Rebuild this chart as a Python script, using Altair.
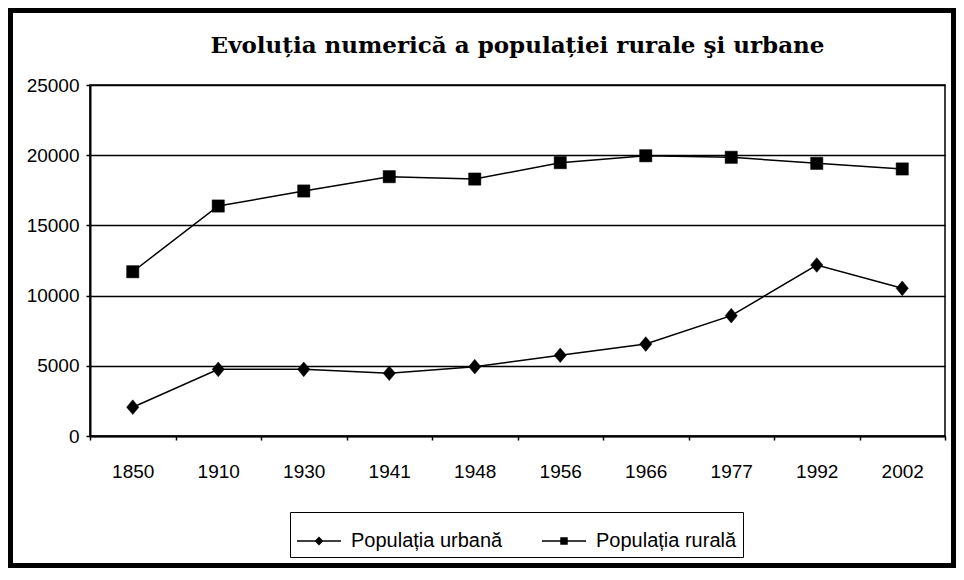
import altair as alt
import pandas as pd

years = ["1850", "1910", "1930", "1941", "1948", "1956", "1966", "1977", "1992", "2002"]
urban = [2050, 4750, 4750, 4470, 4940, 5750, 6550, 8570, 12180, 10520]
rural = [11700, 16380, 17450, 18470, 18300, 19470, 19960, 19850, 19420, 19020]
series_names = ["Populația urbană", "Populația rurală"]
y_ticks = [0, 5000, 10000, 15000, 20000, 25000]
title_text = "Evoluția numerică a populației rurale şi urbane"

rows = []
for i, yr in enumerate(years):
    rows.append({"year": yr, "value": urban[i], "series": series_names[0]})
    rows.append({"year": yr, "value": rural[i], "series": series_names[1]})
df = pd.DataFrame(rows)

W, H = 855, 351
PL, PT, PR, PB = 82, 77, 11, 132

x_enc = alt.X(
    "year:N", sort=years, bandPosition=0.5,
    scale=alt.Scale(type="band", paddingInner=0, paddingOuter=0),
    axis=alt.Axis(title=None, tickBand="extent", grid=False, labelAngle=0,
                  tickSize=4, tickColor="black", tickWidth=1.5,
                  domainColor="black", domainWidth=2,
                  labelFont="Liberation Sans", labelFontSize=19, labelColor="black",
                  labelPadding=22),
)
y_enc = alt.Y(
    "value:Q",
    scale=alt.Scale(domain=[0, 25000], nice=False),
    axis=alt.Axis(title=None, values=y_ticks, format="d", grid=True,
                  gridColor="black", gridWidth=1.5, gridOpacity=1,
                  tickSize=4, tickColor="black", tickWidth=1.5,
                  domainColor="black", domainWidth=2,
                  labelFont="Liberation Sans", labelFontSize=19, labelColor="black",
                  labelPadding=7),
)

base = alt.Chart(df)

lines = base.mark_line(color="black", strokeWidth=1.5).encode(
    x=x_enc, y=y_enc, detail="series:N"
)

plot_diamond = "M0,-1.2L1,0L0,1.2L-1,0Z"
plot_square = "M-1,-1H1V1H-1Z"

points = base.mark_point(filled=True, fill="black", stroke="black", strokeWidth=0.5,
                         opacity=1, size=150).encode(
    x=x_enc, y=y_enc,
    shape=alt.Shape("series:N", scale=alt.Scale(domain=series_names, range=[plot_diamond, plot_square]), legend=None),
)

# legend symbols: a thin filled bar (the line) plus the marker, same winding
diamond_path = "M-1,-0.035H1V0.035H-1ZM0,-0.2L0.2,0L0,0.2L-0.2,0Z"
square_path = "M-1,-0.035H1V0.035H-1ZM-0.17,-0.17H0.17V0.17H-0.17Z"

legend_layer = base.mark_point(filled=True, fill="black", stroke="black", strokeWidth=1.5,
                               opacity=1).encode(
    x=x_enc, y=y_enc,
    shape=alt.Shape(
        "series:N",
        scale=alt.Scale(domain=series_names, range=[diamond_path, square_path]),
        legend=alt.Legend(
            title=None, orient="none", legendX=200, legendY=427, direction="horizontal",
            columns=2, padding=6, strokeColor="black", fillColor="white",
            symbolSize=1936, symbolFillColor="black", symbolStrokeColor="black",
            symbolStrokeWidth=1.5, symbolOpacity=1,
            labelFont="Liberation Sans", labelFontSize=20, labelColor="black",
            labelOffset=9, columnPadding=36, labelLimit=400,
        ),
    ),
).transform_filter("false")

border = alt.Chart(pd.DataFrame({"a": [0]})).mark_rect(
    filled=False, stroke="black", strokeWidth=5
).encode(
    x=alt.value(-PL + 2.5), x2=alt.value(W + PR - 2.5),
    y=alt.value(-PT + 2.5), y2=alt.value(H + PB - 2.5),
)

chart = alt.layer(border, lines, points, legend_layer).resolve_scale(
    shape="independent"
).properties(
    width=W, height=H,
    autosize=alt.AutoSizeParams(type="none"),
    padding={"left": PL, "top": PT, "right": PR, "bottom": PB},
    title=alt.TitleParams(title_text, font="DejaVu Serif", fontSize=23, fontWeight="bold",
                          color="black", anchor="middle", frame="group",
                          baseline="alphabetic", offset=-68),
    background="white",
).configure_view(stroke="black", strokeWidth=1.5)

chart.save("out.html", embed_options={"renderer": "svg", "actions": False})
